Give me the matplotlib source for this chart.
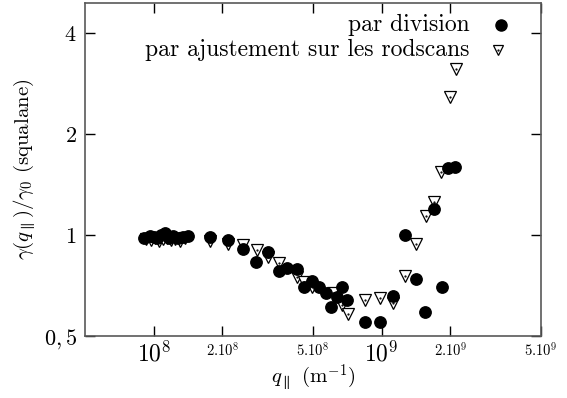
import matplotlib
matplotlib.use("Agg")
import matplotlib.pyplot as plt
import numpy as np

matplotlib.rcParams['font.family'] = 'serif'
matplotlib.rcParams['font.serif'] = ['cmr10']
matplotlib.rcParams['mathtext.fontset'] = 'cm'
matplotlib.rcParams['axes.unicode_minus'] = False

# "par division" (filled circles)
div_q = [9.1e7, 9.6e7, 1.0e8, 1.038e8, 1.081e8, 1.125e8, 1.171e8, 1.22e8, 1.283e8,
         1.349e8, 1.419e8, 1.77e8, 2.117e8, 2.478e8, 2.825e8, 3.17e8, 3.53e8,
         3.86e8, 4.25e8, 4.58e8, 4.94e8, 5.33e8, 5.69e8, 5.98e8, 6.35e8, 6.68e8,
         7.03e8, 8.48e8, 9.88e8, 1.124e9, 1.265e9, 1.409e9, 1.549e9, 1.694e9,
         1.832e9, 1.957e9, 2.108e9]
div_g = [0.98, 0.99, 0.985, 0.98, 1.0, 1.012, 0.98, 0.99, 0.975,
         0.985, 0.99, 0.984, 0.964, 0.906, 0.827, 0.886, 0.78,
         0.797, 0.789, 0.70, 0.728, 0.697, 0.672, 0.61, 0.651, 0.70,
         0.639, 0.549, 0.549, 0.659, 0.998, 0.738, 0.589, 1.19,
         0.70, 1.577, 1.589]

# "par ajustement sur les rodscans" (open triangles)
fit_q = [9.29e7, 9.77e7, 1.017e8, 1.059e8, 1.103e8, 1.148e8, 1.195e8, 1.245e8,
         1.309e8, 1.377e8, 1.77e8, 2.117e8, 2.478e8, 2.836e8, 3.17e8, 3.53e8,
         4.24e8, 4.57e8, 4.94e8, 6.12e8, 6.70e8, 7.12e8, 8.45e8, 9.88e8,
         1.124e9, 1.265e9, 1.409e9, 1.559e9, 1.694e9, 1.82e9, 1.991e9, 2.114e9]
fit_g = [0.97, 0.965, 0.975, 0.96, 0.97, 0.975, 0.965, 0.97,
         0.96, 0.975, 0.96, 0.938, 0.932, 0.90, 0.856, 0.822,
         0.748, 0.724, 0.697, 0.67, 0.617, 0.579, 0.641, 0.649,
         0.628, 0.753, 0.936, 1.139, 1.249, 1.535, 2.578, 3.118]

xticks = [1e8, 2e8, 5e8, 1e9, 2e9, 5e9]
xticklabels = [r'$10^8$', r'$2.10^8$', r'$5.10^8$', r'$10^9$', r'$2.10^9$', r'$5.10^9$']
yticks = [0.5, 1, 2, 4]
yticklabels = [r'$0,5$', r'$1$', r'$2$', r'$4$']

fig = plt.figure(figsize=(5.67, 3.98), dpi=100)
ax = fig.add_axes([0.150, 0.1565, 0.804, 0.835])

ax.set_xscale('log')
ax.set_yscale('log')

ax.plot(fit_q, fit_g, 'v', ms=8, mfc='white', mec='black', mew=0.9, ls='none')
ax.plot(fit_q, fit_g, '.', ms=1.2, color='black', ls='none')
ax.plot(div_q, div_g, 'o', ms=8.2, color='black', ls='none')

ax.set_xlim(5e7, 5e9)
ax.set_ylim(0.5, 4.9)

ax.set_xticks(xticks)
ax.set_xticklabels(xticklabels)
ax.set_yticks(yticks)
ax.set_yticklabels(yticklabels)
ax.minorticks_off()

ax.tick_params(axis='both', which='major', direction='in', length=7.5, width=1,
               top=True, right=True, labelsize=16)
ax.tick_params(axis='x', pad=4)
ax.tick_params(axis='y', pad=6)
for t, lab in zip(ax.xaxis.get_major_ticks(), xticklabels):
    if lab.startswith(r'$10'):
        t.label1.set_fontsize(17)
    else:
        t.label1.set_fontsize(10.5)

for s in ax.spines.values():
    s.set_color('0.35')
    s.set_linewidth(1.2)

ax.set_xlabel(r'$q_{\parallel}$ (m$^{-1}$)', fontsize=15, labelpad=-3)
ax.set_ylabel(r'$\gamma(q_{\parallel})/\gamma_0$ (squalane)', fontsize=15, labelpad=4)

# key, gnuplot style: text right aligned, symbol after it
ax.text(0.844, 0.935, 'par division', fontsize=17, ha='right', va='center',
        transform=ax.transAxes)
ax.text(0.844, 0.8595, 'par ajustement sur les rodscans', fontsize=17, ha='right',
        va='center', transform=ax.transAxes)
ax.plot([0.912], [0.935], 'o', ms=8, color='black', transform=ax.transAxes, clip_on=False)
ax.plot([0.905], [0.8595], 'v', ms=7.5, mfc='white', mec='black', mew=0.9,
        transform=ax.transAxes, clip_on=False)
ax.plot([0.905], [0.8595], '.', ms=1.2, color='black', transform=ax.transAxes, clip_on=False)

fig.savefig('out.png', dpi=100)
